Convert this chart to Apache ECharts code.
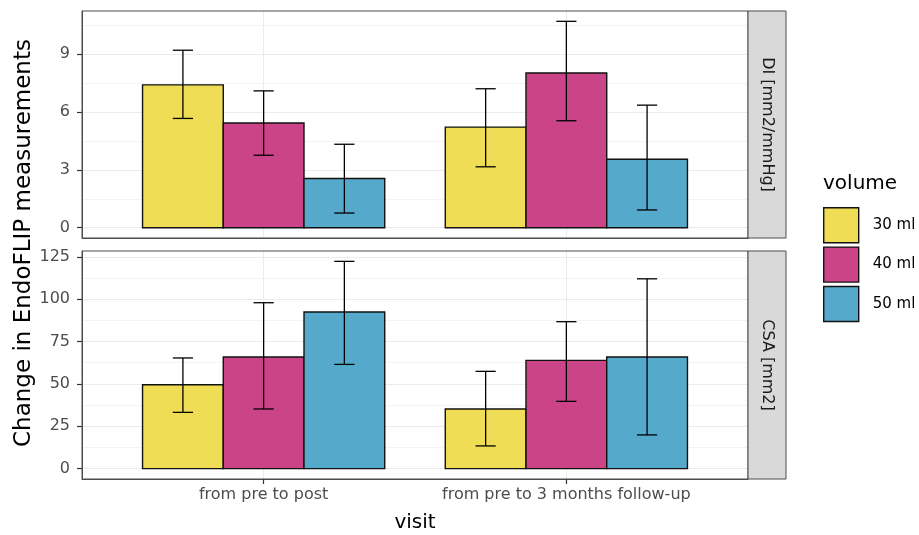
<!DOCTYPE html>
<html><head><meta charset="utf-8">
<script src="https://cdn.jsdelivr.net/npm/echarts@6/dist/echarts.min.js"></script>
<style>html,body{margin:0;padding:0;background:#fff}#c{width:919px;height:535px}</style>
</head><body><div id="c"></div>
<script>
// ---- data ----
const visits = ['from pre to post', 'from pre to 3 months follow-up'];
const volumes = ['30 ml', '40 ml', '50 ml'];
const facetLabels = ['DI [mm2/mmHg]', 'CSA [mm2]'];
const diTicks = [0, 3, 6, 9];
const csaTicks = [0, 25, 50, 75, 100, 125];

const diMean30 = [7.41, 5.22];
const diLow30  = [5.67, 3.16];
const diHigh30 = [9.21, 7.21];
const diMean40 = [5.43, 8.03];
const diLow40  = [3.76, 5.55];
const diHigh40 = [7.10, 10.71];
const diMean50 = [2.55, 3.55];
const diLow50  = [0.76, 0.92];
const diHigh50 = [4.33, 6.36];

const csaMean30 = [49.5, 35.2];
const csaLow30  = [33.2, 13.4];
const csaHigh30 = [65.3, 57.4];
const csaMean40 = [65.9, 63.9];
const csaLow40  = [35.2, 39.7];
const csaHigh40 = [97.9, 86.7];
const csaMean50 = [92.4, 65.9];
const csaLow50  = [61.5, 19.9];
const csaHigh50 = [122.3, 112.0];

// ---- styling ----
const colors = ['#EEDD55', '#CC4488', '#55AACC'];
const FONT = 'DejaVu Sans';
const dodge = 0.8 / 3;
const offsets = [-dodge, 0, dodge];
const capW = 0.2 / 3;

const diMax = Math.max(...diHigh30, ...diHigh40, ...diHigh50);
const csaMax = Math.max(...csaHigh30, ...csaHigh40, ...csaHigh50);

function makeSeries(g, v, mean, lo, hi) {
  return {
    type: 'custom', name: volumes[v], xAxisIndex: g, yAxisIndex: g,
    itemStyle: { color: colors[v] },
    clip: true,
    data: visits.map((_, i) => [i + 1, mean[i], lo[i], hi[i]]),
    encode: { x: 0, y: [1, 2, 3] },
    renderItem: function (params, api) {
      const xc = api.value(0) + offsets[v];
      const p1 = api.coord([xc - dodge / 2, api.value(1)]);
      const p2 = api.coord([xc + dodge / 2, 0]);
      const top = api.coord([xc, api.value(3)]);
      const bot = api.coord([xc, api.value(2)]);
      const cl = api.coord([xc - capW / 2, 0])[0];
      const cr = api.coord([xc + capW / 2, 0])[0];
      const ls = { stroke: '#000', lineWidth: 1.3 };
      return { type: 'group', children: [
        { type: 'rect', shape: { x: p1[0], y: p1[1], width: p2[0] - p1[0], height: p2[1] - p1[1] },
          style: { fill: colors[v], stroke: '#111', lineWidth: 1.4 } },
        { type: 'line', z2: 5, shape: { x1: top[0], y1: top[1], x2: bot[0], y2: bot[1] }, style: ls },
        { type: 'line', z2: 5, shape: { x1: cl, y1: top[1], x2: cr, y2: top[1] }, style: ls },
        { type: 'line', z2: 5, shape: { x1: cl, y1: bot[1], x2: cr, y2: bot[1] }, style: ls }
      ]};
    }
  };
}

const series = [
  makeSeries(0, 0, diMean30, diLow30, diHigh30),
  makeSeries(0, 1, diMean40, diLow40, diHigh40),
  makeSeries(0, 2, diMean50, diLow50, diHigh50),
  makeSeries(1, 0, csaMean30, csaLow30, csaHigh30),
  makeSeries(1, 1, csaMean40, csaLow40, csaHigh40),
  makeSeries(1, 2, csaMean50, csaLow50, csaHigh50)
];

const P = [{ top: 11, h: 227 }, { top: 251, h: 228 }];
const L = 82, R = 748;

function xAxisCfg(g) {
  return {
    type: 'value', gridIndex: g, min: 0.4, max: 2.6, minInterval: 1, maxInterval: 1,
    axisLine: { show: true, onZero: false, lineStyle: { color: '#4d4d4d', width: 1 } },
    axisTick: { show: g === 1, customValues: [1, 2], length: 5, lineStyle: { color: '#333', width: 1.2 } },
    axisLabel: { show: g === 1, customValues: [1, 2],
      formatter: val => visits[Math.round(val) - 1] || '', margin: 8, fontSize: 16, color: '#4D4D4D', fontFamily: FONT },
    splitLine: { show: true, lineStyle: { color: '#EBEBEB', width: 1 } }
  };
}
function yAxisCfg(g, maxv, step, ticks) {
  return {
    type: 'value', gridIndex: g, min: -0.05 * maxv, max: 1.05 * maxv, minInterval: step, maxInterval: step,
    axisLine: { show: true, onZero: false, lineStyle: { color: '#4d4d4d', width: 1 } },
    axisTick: { show: true, customValues: ticks, length: 5, lineStyle: { color: '#333', width: 1.2 } },
    axisLabel: { customValues: ticks, margin: 12, fontSize: 16, color: '#4D4D4D', fontFamily: FONT },
    splitLine: { show: true, lineStyle: { color: '#EBEBEB', width: 1 } },
    minorTick: { show: false, splitNumber: 2 },
    minorSplitLine: { show: true, lineStyle: { color: '#F3F3F3', width: 1 } }
  };
}

const graphics = [];
P.forEach((p, g) => {
  graphics.push({ type: 'rect', z: 100, shape: { x: L, y: p.top, width: R - L, height: p.h },
    style: { fill: 'none', stroke: '#4d4d4d', lineWidth: 1 } });
  graphics.push({ type: 'rect', z: 100, shape: { x: R, y: p.top, width: 38, height: p.h },
    style: { fill: '#D9D9D9', stroke: '#4d4d4d', lineWidth: 1 } });
  graphics.push({ type: 'text', z: 101, x: R + 19, y: p.top + p.h / 2, rotation: -Math.PI / 2,
    style: { text: facetLabels[g], fontSize: 16, fill: '#1A1A1A', fontFamily: FONT, align: 'center', verticalAlign: 'middle' } });
});
graphics.push({ type: 'text', x: 24, y: 243, rotation: Math.PI / 2,
  style: { text: 'Change in EndoFLIP measurements', fontSize: 23, fill: '#000', fontFamily: FONT, align: 'center', verticalAlign: 'middle' } });
graphics.push({ type: 'text', x: 415, y: 523,
  style: { text: 'visit', fontSize: 20, fill: '#000', fontFamily: FONT, align: 'center', verticalAlign: 'middle' } });
graphics.push({ type: 'text', x: 823, y: 184,
  style: { text: 'volume', fontSize: 20, fill: '#000', fontFamily: FONT, align: 'left', verticalAlign: 'middle' } });

const chart = echarts.init(document.getElementById('c'), null, { renderer: 'canvas' });
chart.setOption({
  animation: false,
  backgroundColor: '#fff',
  grid: P.map(p => ({ left: L, right: 919 - R, top: p.top, height: p.h, containLabel: false })),
  xAxis: [xAxisCfg(0), xAxisCfg(1)],
  yAxis: [yAxisCfg(0, diMax, 3, diTicks), yAxisCfg(1, csaMax, 25, csaTicks)],
  legend: {
    data: volumes, orient: 'vertical', left: 823, top: 207, padding: 0, icon: 'rect',
    itemWidth: 35, itemHeight: 35, itemGap: 3, selectedMode: false,
    itemStyle: { borderColor: '#111', borderWidth: 1.4 },
    textStyle: { fontSize: 15, color: '#000', fontFamily: FONT, padding: [0, 0, 0, 9] }
  },
  graphic: graphics,
  series: series
});
</script></body></html>
